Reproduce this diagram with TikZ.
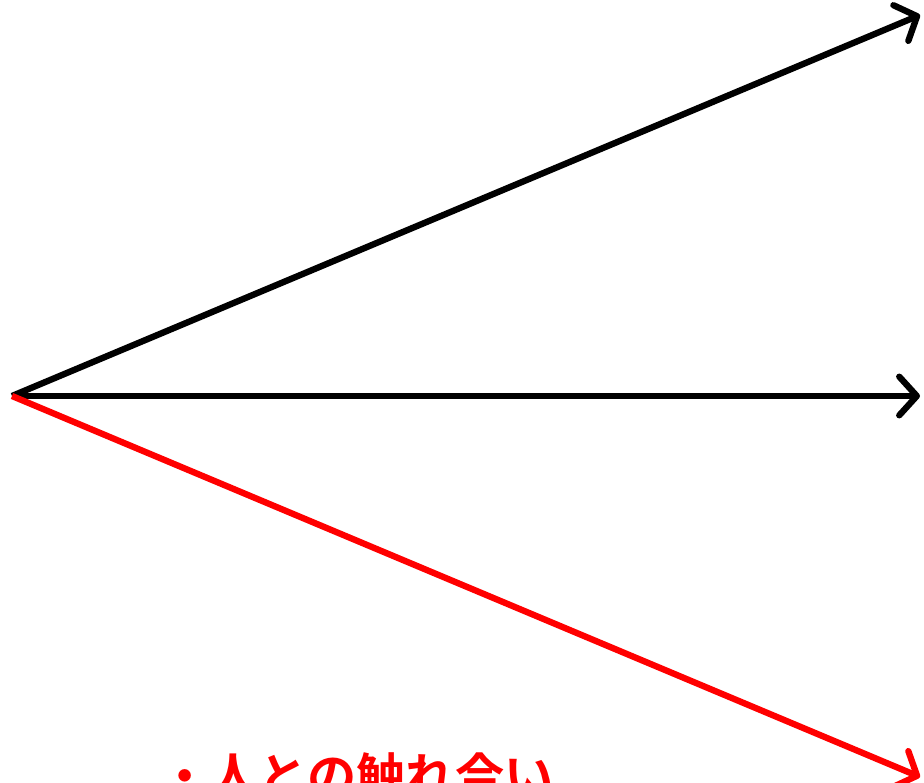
\documentclass[tikz,border=0pt]{standalone}
\usepackage{fontspec}
\newfontfamily\jpfont{Noto Sans CJK JP}[BoldFont={* Bold}]
\usetikzlibrary{arrows.meta}

\begin{document}
\begin{tikzpicture}[x=0.02cm, y=-0.02cm,
    ray/.style={line width=3.6pt, -{Straight Barb[length=10pt, width=22pt, line width=3.6pt, line cap=round, line join=round]}}]

    % 画布
    \useasboundingbox (0,0) rectangle (924,783);

    % 起点和终点
    \coordinate (o) at (12,396);
    \coordinate (up) at (920,15);
    \coordinate (mid) at (920,396);
    \coordinate (down) at (920,777);

    % 画三条箭头
    \draw[ray] (o) -- (up);
    \draw[ray] (o) -- (mid);
    \draw[ray, red] (o) -- (down);

    % 插入文字
    \node[anchor=base west, inner sep=0pt, text=red, font=\jpfont\bfseries\fontsize{28pt}{34pt}\selectfont] (touch) at (160,795) {・人との触れ合い};

  \end{tikzpicture}
\end{document}
